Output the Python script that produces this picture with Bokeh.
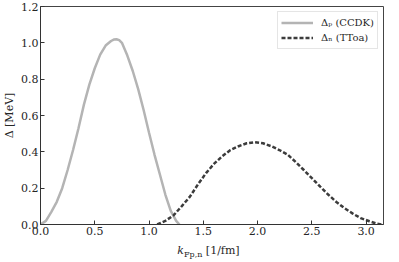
from bokeh.plotting import figure
from bokeh.models import Range1d, FixedTicker, PrintfTickFormatter, Legend, LegendItem, Div
from bokeh.layouts import column
from bokeh.embed import file_html
from bokeh.resources import INLINE

# Proton gap (CCDK)
p_k = [0.0, 0.05, 0.1, 0.15, 0.2, 0.25, 0.3, 0.35, 0.4, 0.45, 0.5, 0.55, 0.6, 0.65,
       0.675, 0.7, 0.725, 0.75, 0.8, 0.85, 0.9, 0.95, 1.0, 1.05, 1.1, 1.15, 1.2, 1.25, 1.28]
p_gap = [0.0, 0.02, 0.07, 0.125, 0.2, 0.3, 0.41, 0.53, 0.66, 0.77, 0.86, 0.935, 0.985, 1.01,
         1.018, 1.02, 1.015, 1.0, 0.93, 0.845, 0.745, 0.63, 0.505, 0.385, 0.275, 0.165, 0.075, 0.02, 0.0]

# Neutron gap (TToa)
n_k = [1.075, 1.15, 1.225, 1.3, 1.375, 1.45, 1.525, 1.6, 1.675, 1.75, 1.825, 1.9, 1.975,
       2.05, 2.126, 2.2, 2.276, 2.35, 2.426, 2.5, 2.577, 2.65, 2.726, 2.8, 2.877, 2.95,
       3.03, 3.09, 3.147]
n_gap = [0.0, 0.02, 0.05, 0.1, 0.152, 0.22, 0.283, 0.335, 0.376, 0.41, 0.431, 0.447, 0.453,
         0.447, 0.431, 0.41, 0.385, 0.345, 0.3, 0.255, 0.208, 0.165, 0.124, 0.09, 0.06, 0.035,
         0.018, 0.006, 0.0]

x_ticks = [0.0, 0.5, 1.0, 1.5, 2.0, 2.5, 3.0]
y_ticks = [0.0, 0.2, 0.4, 0.6, 0.8, 1.0, 1.2]
legend_labels = ["\u0394\u209a (CCDK)", "\u0394\u2099 (TToa)"]
y_title = "\u0394 [MeV]"
x_title_main, x_title_sub, x_title_unit = "k", "Fp,n", "[1/fm]"

FONT = "DejaVu Serif"
TXT = "#262626"

p = figure(width=384, height=240, output_backend="svg", toolbar_location=None,
           x_range=Range1d(0, 3.16), y_range=Range1d(0, 1.2),
           min_border_left=33, min_border_right=1, min_border_top=6, min_border_bottom=16)
p.background_fill_color = "white"
p.border_fill_color = "white"
p.outline_line_color = "#444444"
p.outline_line_width = 1
p.grid.visible = False

for ax in (p.xaxis[0], p.yaxis[0]):
    ax.major_tick_in = 4
    ax.major_tick_out = 0
    ax.minor_tick_line_color = None
    ax.axis_line_color = "#333333"
    ax.major_tick_line_color = "#333333"
    ax.major_label_text_font = FONT
    ax.major_label_text_font_size = "11px"
    ax.major_label_text_color = TXT
    ax.formatter = PrintfTickFormatter(format="%.1f")
p.xaxis[0].ticker = FixedTicker(ticks=x_ticks)
p.yaxis[0].ticker = FixedTicker(ticks=y_ticks)
p.xaxis[0].major_label_standoff = 2
p.yaxis[0].major_label_standoff = 2
p.yaxis[0].axis_label = y_title
p.yaxis[0].axis_label_text_font = FONT
p.yaxis[0].axis_label_text_font_size = "11px"
p.yaxis[0].axis_label_text_font_style = "normal"
p.yaxis[0].axis_label_text_color = TXT
p.yaxis[0].axis_label_standoff = 2

r1 = p.line(p_k, p_gap, line_color="#b4b4b4", line_width=2.5)
r2 = p.line(n_k, n_gap, line_color="#3c3c3c", line_width=2.5, line_dash="4 2")

legend = Legend(items=[LegendItem(label=legend_labels[0], renderers=[r1]),
                       LegendItem(label=legend_labels[1], renderers=[r2])],
                location="top_right", margin=5, padding=3, spacing=0,
                glyph_width=32, glyph_height=15, label_standoff=8,
                label_height=15,
                label_text_font=FONT, label_text_font_size="10px", label_text_color=TXT,
                border_line_color="#cccccc", border_line_width=1,
                background_fill_color="white", background_fill_alpha=0.8)
p.add_layout(legend, "center")

# x-axis title with subscript, as HTML text under the figure
xhtml = (
    '<div style="width:384px;box-sizing:border-box;padding-left:33px;text-align:center;'
    "position:relative;top:2px;"
    "font-family:'DejaVu Serif',serif;font-size:11px;line-height:14px;color:%s;white-space:nowrap\">"
    '<i>%s</i><span style="font-size:8px;position:relative;top:3px">%s</span> %s</div>'
    % (TXT, x_title_main, x_title_sub, x_title_unit)
)
xdiv = Div(text=xhtml, width=384, height=12, margin=0)

layout = column(p, xdiv, spacing=0)
open("out.html", "w").write(file_html(layout, INLINE))
